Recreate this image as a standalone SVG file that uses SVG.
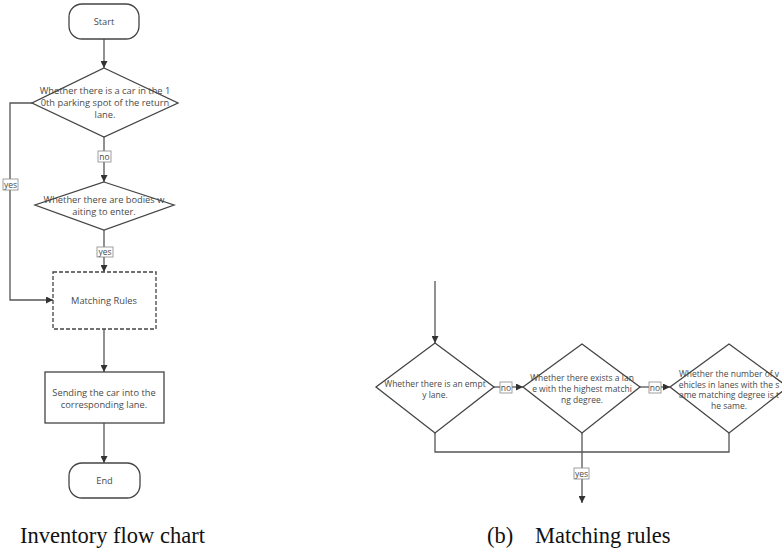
<svg xmlns="http://www.w3.org/2000/svg" width="782" height="551" viewBox="0 0 782 551">
<defs>
<marker id="arr" viewBox="0 0 10 10" refX="10" refY="5" markerWidth="7" markerHeight="7" markerUnits="userSpaceOnUse" orient="auto">
<path d="M0,0 L10,5 L0,10 z" fill="#333"/>
</marker>
</defs>
<style>
.sh{fill:#fff;stroke:#444;stroke-width:1.3}
.dash{stroke-dasharray:4 2}
.ln{fill:none;stroke:#555;stroke-width:1.3}
.t{font-family:"Open Sans","Noto Sans",sans-serif;font-size:9.3px;fill:#4a4a4a;text-anchor:middle}
.ts{font-family:"Open Sans","Noto Sans",sans-serif;font-size:8.5px;fill:#4a4a4a;text-anchor:middle}
.lb{fill:#fff;stroke:#888;stroke-width:0.8}
.lt{font-family:"Open Sans","Noto Sans",sans-serif;font-size:8.5px;fill:#4a4a4a;text-anchor:middle}
.cap{font-family:"Liberation Serif",serif;font-size:22.5px;fill:#111}
</style>
<rect width="782" height="551" fill="#fff"/>

<g id="connectors">
<line class="ln" x1="104" y1="39" x2="104" y2="68" marker-end="url(#arr)"/>
<line class="ln" x1="104" y1="137" x2="104" y2="182" marker-end="url(#arr)"/>
<line class="ln" x1="104" y1="230" x2="104" y2="272" marker-end="url(#arr)"/>
<polyline class="ln" points="32,103 10,103 10,300 53,300" marker-end="url(#arr)"/>
<line class="ln" x1="104" y1="329" x2="104" y2="372" marker-end="url(#arr)"/>
<line class="ln" x1="104" y1="423" x2="104" y2="463" marker-end="url(#arr)"/>
<line class="ln" x1="435" y1="281" x2="435" y2="343" marker-end="url(#arr)"/>
<line class="ln" x1="494" y1="387" x2="523" y2="387" marker-end="url(#arr)"/>
<line class="ln" x1="640" y1="387" x2="670" y2="387" marker-end="url(#arr)"/>
<polyline class="ln" points="435,433 435,452 729,452 729,433"/>
<line class="ln" x1="582" y1="433" x2="582" y2="503" marker-end="url(#arr)"/>
<g id="labels">
<rect class="lb" x="98" y="151" width="13" height="11"/><text class="lt" x="104.5" y="159.5">no</text>
<rect class="lb" x="97" y="247" width="16" height="10"/><text class="lt" x="105" y="255">yes</text>
<rect class="lb" x="3" y="179" width="15" height="11"/><text class="lt" x="10.5" y="187.5">yes</text>
<rect class="lb" x="500" y="382" width="12" height="11"/><text class="lt" x="506" y="390.5">no</text>
<rect class="lb" x="649" y="382" width="12" height="11"/><text class="lt" x="655" y="390.5">no</text>
<rect class="lb" x="574" y="468" width="15" height="11"/><text class="lt" x="581.5" y="476.5">yes</text>
</g>
</g>

<g id="start">
<rect class="sh" x="69" y="4" width="70" height="35" rx="13"/>
<text class="t" x="104" y="24.5">Start</text>
</g>
<g id="decision-car">
<polygon class="sh" points="104,68 178,103 104,137 32,103"/>
<text class="t" x="105" y="94">Whether there is a car in the 1</text>
<text class="t" x="105" y="106">0th parking spot of the return</text>
<text class="t" x="105" y="118">lane.</text>
</g>
<g id="decision-bodies">
<polygon class="sh" points="104,182 174,205 104,230 35,205"/>
<text class="t" x="104" y="203">Whether there are bodies w</text>
<text class="t" x="104" y="215">aiting to enter.</text>
</g>
<g id="matching-rules">
<rect class="sh dash" x="53" y="272" width="103" height="57"/>
<text class="t" x="104" y="304">Matching Rules</text>
</g>
<g id="sending">
<rect class="sh" x="45" y="372" width="119" height="51"/>
<text class="t" x="104" y="396">Sending the car into the</text>
<text class="t" x="104" y="408">corresponding lane.</text>
</g>
<g id="end">
<rect class="sh" x="69" y="463" width="71" height="35" rx="13"/>
<text class="t" x="104.5" y="484">End</text>
</g>

<g id="decision-empty">
<polygon class="sh" points="435,343 494,387 435,433 376,387"/>
<text class="ts" x="435" y="387">Whether there is an empt</text>
<text class="ts" x="435" y="398">y lane.</text>
</g>
<g id="decision-highest">
<polygon class="sh" points="582,344 640,387 582,433 523,387"/>
<text class="ts" x="582" y="381">Whether there exists a lan</text>
<text class="ts" x="582" y="392">e with the highest matchi</text>
<text class="ts" x="582" y="403">ng degree.</text>
</g>
<g id="decision-same">
<polygon class="sh" points="729,344 788,387 729,433 670,387"/>
<text class="ts" x="729" y="377">Whether the number of v</text>
<text class="ts" x="729" y="387.5">ehicles in lanes with the s</text>
<text class="ts" x="729" y="398">ame matching degree is t</text>
<text class="ts" x="729" y="408.5">he same.</text>
</g>

<text class="cap" x="20" y="543">Inventory flow chart</text>
<text class="cap" x="487" y="543">(b)</text>
<text class="cap" x="535" y="543">Matching rules</text>
</svg>
